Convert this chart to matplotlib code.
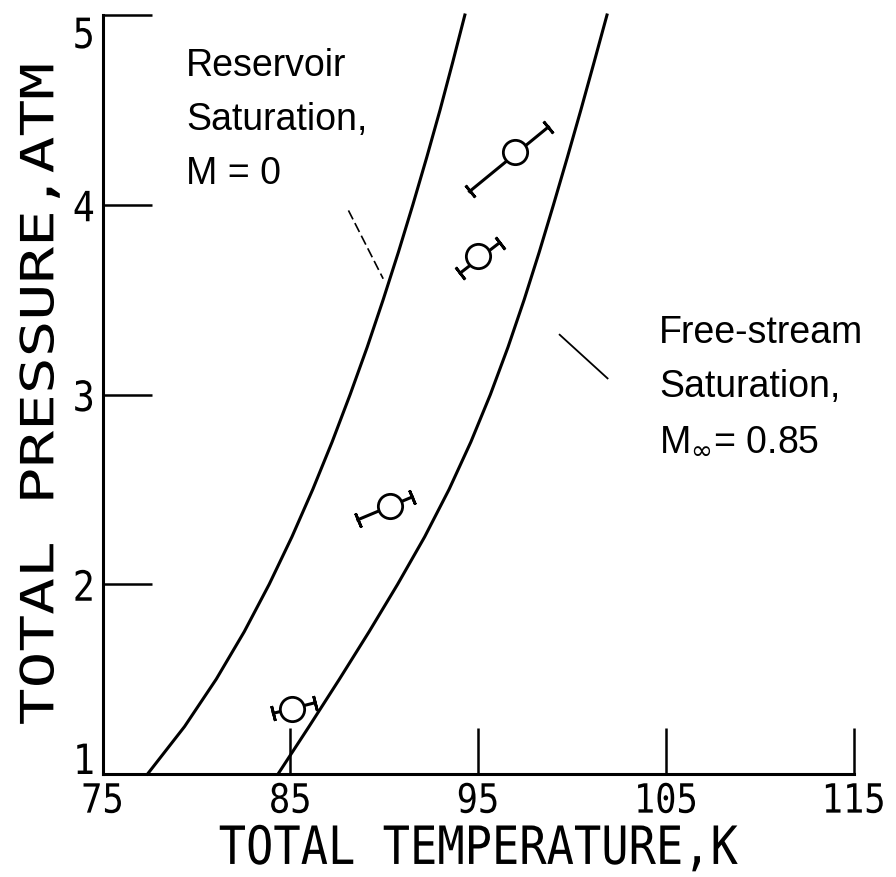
import matplotlib
matplotlib.use('Agg')
import matplotlib.pyplot as plt
import numpy as np
from matplotlib.patheffects import AbstractPathEffect
from matplotlib.transforms import Affine2D

# pressure levels at which the curves were read (atm)
curve_P = [1.0, 1.25, 1.5, 1.75, 2.0, 2.25, 2.5, 2.75, 3.0,
           3.25, 3.5, 3.75, 4.0, 4.25, 4.5, 4.75, 5.0]
# reservoir saturation, M = 0 (K)
res_T = [77.4, 79.37, 81.06, 82.55, 83.88, 85.09, 86.2, 87.23, 88.19,
         89.1, 89.95, 90.76, 91.53, 92.27, 92.98, 93.65, 94.3]
# free-stream saturation, M_inf = 0.85 (K)
fs_T = [84.35, 86.0, 87.62, 89.2, 90.72, 92.16, 93.46, 94.62, 95.66,
        96.6, 97.46, 98.26, 99.02, 99.76, 100.48, 101.18, 101.87]

# measured points and the ends of their (slanted) error bars
pt_T = [85.1, 90.3, 95.0, 96.95]
pt_P = [1.34, 2.41, 3.73, 4.28]
lo_T = [84.1, 88.6, 94.05, 94.55]
lo_P = [1.32, 2.34, 3.64, 4.07]
hi_T = [86.3, 91.5, 96.15, 98.75]
hi_P = [1.375, 2.46, 3.80, 4.41]

# leader lines from the labels to the curves
lead_res_T = [88.1, 89.95]
lead_res_P = [3.97, 3.61]
lead_fs_T = [99.35, 101.9]
lead_fs_P = [3.315, 3.085]

x_ticks = [75, 85, 95, 105, 115]
y_ticks = [1, 2, 3, 4, 5]


class Squeeze(AbstractPathEffect):
    """draw text narrower than the font, like the old plotter lettering"""
    def __init__(self, sx=0.75):
        super().__init__()
        self.sx = sx

    def draw_path(self, renderer, gc, tpath, affine, rgbFace=None):
        ext = tpath.get_extents(affine)
        cx = 0.5 * (ext.x0 + ext.x1)
        sq = Affine2D().translate(-cx, 0).scale(self.sx, 1).translate(cx, 0)
        renderer.draw_path(gc, tpath, affine + sq, rgbFace)


plt.rcParams['font.family'] = 'DejaVu Sans Mono'

fig = plt.figure(figsize=(8.96, 8.77), dpi=100)
ax = fig.add_axes([102.5 / 896, 103 / 877, 751 / 896, 759 / 877])
ax.set_xlim(75, 115)
ax.set_ylim(1, 5)

for s in ['top', 'right']:
    ax.spines[s].set_visible(False)
for s in ['left', 'bottom']:
    ax.spines[s].set_linewidth(2.2)

ax.set_xticks(x_ticks)
ax.set_yticks(y_ticks)
ax.set_xticklabels([str(v) for v in x_ticks])
ax.set_yticklabels([str(v) for v in y_ticks])
ax.tick_params(axis='x', direction='in', length=33, width=1.8, pad=5.5, labelsize=29)
ax.tick_params(axis='y', direction='in', length=35, width=1.8, pad=4.5, labelsize=30)

tick_fx = [Squeeze(0.88)]
for lbl in ax.get_xticklabels() + ax.get_yticklabels():
    lbl.set_path_effects(tick_fx)
ylbls = ax.get_yticklabels()
ylbls[0].set_va('baseline')
ylbls[-1].set_va('top')

ax.set_xlabel('TOTAL TEMPERATURE,K', fontsize=38, path_effects=[Squeeze(0.86)])
ax.set_ylabel('TOTAL PRESSURE,ATM', fontsize=44, path_effects=[Squeeze(0.75)])
ax.xaxis.set_label_coords(0.5, -0.0645)
ax.yaxis.set_label_coords(-0.042, 0.5)

# saturation curves
ax.plot(res_T, curve_P, color='black', lw=2.2, clip_on=False)
ax.plot(fs_T, curve_P, color='black', lw=2.2, clip_on=False)

# slanted error bars with perpendicular end caps
for i in range(len(pt_T)):
    ax.plot([lo_T[i], hi_T[i]], [lo_P[i], hi_P[i]], color='black', lw=2.2, zorder=3)
    p0 = ax.transData.transform((lo_T[i], lo_P[i]))
    p1 = ax.transData.transform((hi_T[i], hi_P[i]))
    ang = np.degrees(np.arctan2(p1[1] - p0[1], p1[0] - p0[0]))
    ax.plot([lo_T[i], hi_T[i]], [lo_P[i], hi_P[i]], ls='none', marker=(2, 2, ang),
            ms=11, mew=2.0, color='black', zorder=3)

ax.plot(pt_T, pt_P, 'o', ms=17.5, mfc='white', mec='black', mew=2.0, zorder=4)

# leaders
ax.plot(lead_res_T, lead_res_P, color='black', lw=1.2, ls=(0, (6, 2.5)))
ax.plot(lead_fs_T, lead_fs_P, color='black', lw=1.3)

ax.text(79.45, 4.826, 'Reservoir\nSaturation,\nM = 0', family='Liberation Sans',
        fontsize=27, va='top', ha='left', linespacing=1.64)
ax.text(104.65, 3.419, 'Free-stream\nSaturation,\nM$_{\\infty}$= 0.85', family='Liberation Sans',
        fontsize=27, va='top', ha='left', linespacing=1.64)

plt.savefig('out.png', dpi=100)
plt.close()
